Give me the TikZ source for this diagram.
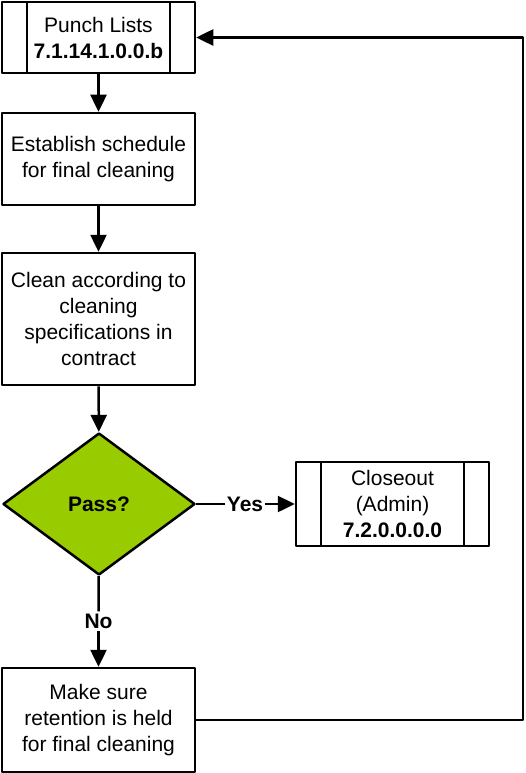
\documentclass[tikz,border=0pt]{standalone}
\usepackage{fontspec}
\setmainfont{Liberation Sans}
\usetikzlibrary{shapes.geometric,arrows.meta}
\definecolor{passgreen}{HTML}{99CC00}
\begin{document}
\begin{tikzpicture}[x=1pt,y=-1pt,line join=round,>={Triangle[length=17pt,width=16pt]},
	every path/.style={line width=2.5pt},
	every node/.style={font=\fontsize{21}{26}\selectfont,align=center},
	stepbox/.style={draw,rectangle,minimum width=193pt,inner sep=2pt},
	subbox/.style={stepbox,path picture={
		\draw ([xshift=25pt]path picture bounding box.north west) -- ([xshift=25pt]path picture bounding box.south west);
		\draw ([xshift=-25pt]path picture bounding box.north east) -- ([xshift=-25pt]path picture bounding box.south east);}},
	decision/.style={draw,diamond,fill=passgreen,minimum width=192pt,minimum height=142pt,inner sep=0pt,font=\fontsize{21}{26}\selectfont\bfseries},
	label/.style={inner sep=1pt,font=\fontsize{21}{26}\selectfont\bfseries}]
	\useasboundingbox (0,0) rectangle (526,773);
	\node[subbox,minimum height=71pt] (punch) at (98.5,37.5) {Punch Lists\\\textbf{7.1.14.1.0.0.b}};
	\node[stepbox,minimum height=92pt] (sched) at (98.5,159) {Establish schedule\\for final cleaning};
	\node[stepbox,minimum height=132pt] (clean) at (98.5,319) {Clean according to\\cleaning\\specifications in\\contract};
	\node[decision] (pass) at (99,504) {Pass?};
	\node[subbox,minimum height=84pt] (close) at (392.5,504) {Closeout\\(Admin)\\\textbf{7.2.0.0.0.0}};
	\node[stepbox,minimum height=104pt] (retain) at (98.5,720) {Make sure\\retention is held\\for final cleaning};
	\node[label] (yes) at (245,504) {Yes};
	\node[label] (no) at (98.5,621) {No};
	\coordinate (loop) at (523,720);
	% connectors
	\draw[->] (punch) -- (sched);
	\draw[->] (sched) -- (clean);
	\draw[->] (clean) -- (pass);
	\draw (pass) -- (yes);
	\draw[->] (yes) -- (close);
	\draw (pass) -- (no);
	\draw[->] (no) -- (retain);
	\draw[->] (retain.east) -- (loop) |- (punch.east);
\end{tikzpicture}
\end{document}
